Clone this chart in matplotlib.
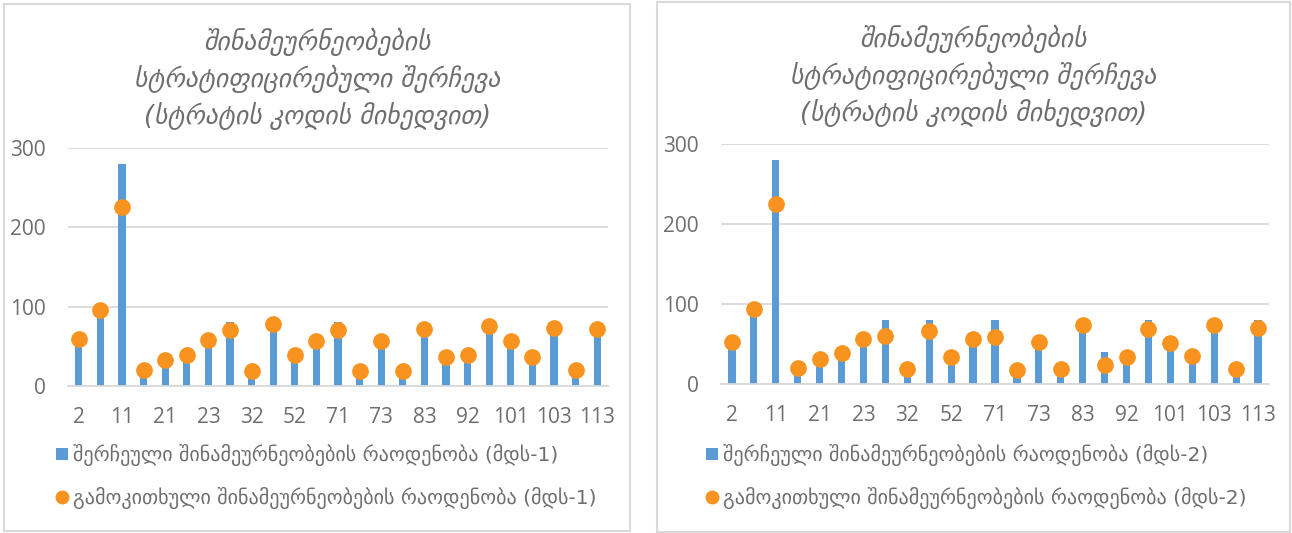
import matplotlib.pyplot as plt
from matplotlib.patches import Rectangle, Patch
from matplotlib.lines import Line2D

# strata codes (every second one is shown on the axis)
codes = ["2", "3", "11", "13", "21", "22", "23", "31", "32", "51", "52", "61", "71",
         "72", "73", "81", "83", "91", "92", "93", "101", "102", "103", "111", "113"]

selected_1 = [57, 93, 280, 16, 30, 36, 56, 80, 16, 78, 36, 56, 80,
              16, 56, 16, 72, 35, 37, 76, 56, 35, 72, 16, 72]
surveyed_1 = [59, 96, 226, 20, 33, 39, 58, 70, 19, 78, 39, 57, 70,
              19, 57, 19, 72, 36, 39, 76, 57, 36, 73, 20, 72]

selected_2 = [50, 90, 280, 16, 30, 36, 54, 80, 15, 80, 32, 54, 80,
              15, 50, 15, 72, 40, 32, 80, 50, 33, 72, 16, 80]
surveyed_2 = [52, 94, 225, 20, 31, 38, 56, 60, 18, 66, 33, 56, 58,
              17, 52, 18, 73, 23, 33, 68, 51, 35, 73, 18, 70]

TITLE = "შინამეურნეობების\nსტრატიფიცირებული შერჩევა\n(სტრატის კოდის მიხედვით)"
LBL_BAR = "შერჩეული შინამეურნეობების რაოდენობა (მდს-{})"
LBL_DOT = "გამოკითხული შინამეურნეობების რაოდენობა (მდს-{})"

BLUE = "#5B9BD5"
ORANGE = "#F7931E"
GREY = "#6E6E6E"
GRID = "#D9D9D9"

W, H = 1292, 533
fig = plt.figure(figsize=(W / 100, H / 100), dpi=100)


def px(x0, y0, x1, y1):
    # pixel box (top-left origin) -> figure fraction rect
    return [x0 / W, 1 - y1 / H, (x1 - x0) / W, (y1 - y0) / H]


def panel(frame, plot_box, title_y, legend_xy, sel, surv, n):
    fx0, fy0, fx1, fy1 = frame
    fig.add_artist(Rectangle((fx0 / W, 1 - fy1 / H), (fx1 - fx0) / W, (fy1 - fy0) / H,
                             transform=fig.transFigure, fill=False,
                             edgecolor="#D9D9D9", linewidth=1.5))
    ax = fig.add_axes(px(*plot_box))
    x = range(len(codes))
    ax.bar(x, sel, width=0.33, color=BLUE, zorder=2)
    ax.plot(x, surv, "o", color=ORANGE, markersize=11, zorder=3)
    ax.set_xlim(-0.5, len(codes) - 0.5)
    ax.set_ylim(0, 300)
    ax.set_yticks([0, 100, 200, 300])
    ax.set_xticks(list(x)[::2])
    ax.set_xticklabels(codes[::2])
    ax.yaxis.grid(True, color=GRID, linewidth=1.3, zorder=0)
    for s in ["top", "right", "left"]:
        ax.spines[s].set_visible(False)
    ax.spines["bottom"].set_color(GRID)
    ax.spines["bottom"].set_linewidth(1.3)
    ax.tick_params(axis="both", length=0, labelsize=15, labelcolor=GREY)
    ax.tick_params(axis="x", pad=15)
    ax.tick_params(axis="y", pad=16)
    for t in ax.get_xticklabels() + ax.get_yticklabels():
        t.set_fontfamily(["Open Sans", "DejaVu Sans"])

    fig.text(((fx0 + fx1) / 2) / W, 1 - title_y / H, TITLE, ha="center", va="center",
             fontsize=18.5, style="italic", color=GREY, linespacing=1.4)

    handles = [Patch(facecolor=BLUE, edgecolor="none"),
               Line2D([], [], marker="o", linestyle="none", color=ORANGE, markersize=9)]
    fig.legend(handles, [LBL_BAR.format(n), LBL_DOT.format(n)],
               loc="upper left", bbox_to_anchor=(legend_xy[0] / W, 1 - legend_xy[1] / H),
               frameon=False, fontsize=14.5, labelcolor=GREY, handlelength=0.6,
               handleheight=0.6, handletextpad=0.25, labelspacing=1.05,
               borderpad=0, borderaxespad=0)


panel((4, 4, 630, 531), (68, 148.3, 608, 385.7), 79, (56, 444), selected_1, surveyed_1, 1)
panel((657, 2, 1290, 532), (721, 144, 1269, 383.7), 76, (706, 444), selected_2, surveyed_2, 2)

fig.savefig("out.png", dpi=100, facecolor="white")
